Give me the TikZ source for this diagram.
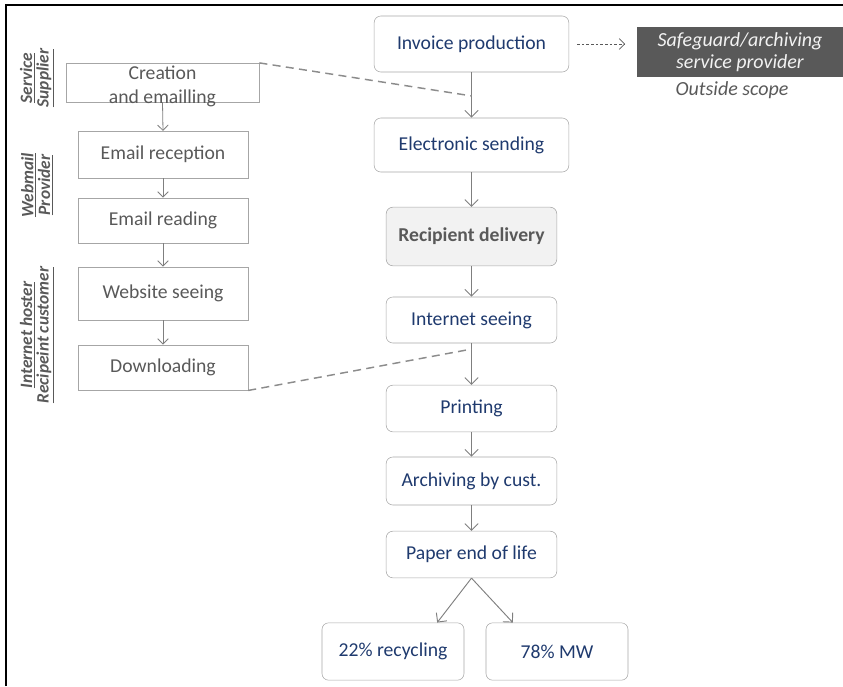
\documentclass[tikz,border=0pt]{standalone}
\usepackage{fontspec}
\setmainfont{Carlito}
\usepackage{tikz}
\usetikzlibrary{calc,arrows.meta}

\definecolor{boxgray}{HTML}{A6A6A6}
\definecolor{arrgray}{HTML}{7F7F7F}
\definecolor{procblue}{HTML}{1F3A6E}
\definecolor{leftgray}{HTML}{595959}
\definecolor{darkbox}{HTML}{595959}
\definecolor{lightfill}{HTML}{F2F2F2}

\begin{document}
\begin{tikzpicture}[x=0.75pt,y=-0.75pt]
    \useasboundingbox (0,0) rectangle (843,686);
    \draw[line width=1.2pt] (6,686) -- (6,5) -- (843,5);

    \tikzset{procbox/.style={draw=boxgray,rounded corners=5pt,text=procblue,inner sep=0pt,font=\fontsize{14.75}{17}\selectfont},
             leftbox/.style={draw=boxgray,text=leftgray,inner sep=0pt,align=center,font=\fontsize{14.75}{16.5}\selectfont},
             flow/.style={arrgray,line width=0.7pt,-{Straight Barb[length=5pt,width=10pt]}},
             lane/.style={rotate=90,align=center,text=leftgray,font=\fontsize{13}{12.5}\selectfont\bfseries\itshape},
             scopeline/.style={arrgray!90,line width=1.1pt,dash pattern=on 6pt off 4pt}}

    % central column
    \node[procbox,minimum width=146pt,minimum height=42pt] (invoice) at (471.5,44) {Invoice production};
    \node[procbox,minimum width=146pt,minimum height=40.5pt] (sending) at (471.5,145) {Electronic sending};
    \node[procbox,fill=lightfill,text=leftgray,font=\fontsize{14.75}{17}\selectfont\bfseries,minimum width=128pt,minimum height=44pt] (delivery) at (471.5,236.5) {Recipient delivery};
    \node[procbox,minimum width=128pt,minimum height=34.5pt] (seeing) at (471.5,320) {Internet seeing};
    \node[procbox,minimum width=128pt,minimum height=35pt] (printing) at (471.5,408.5) {Printing};
    \node[procbox,minimum width=128pt,minimum height=36pt] (archiving) at (471.5,481) {Archiving by cust.};
    \node[procbox,minimum width=128pt,minimum height=35pt] (endlife) at (471.5,554.5) {Paper end of life};
    \node[procbox,minimum width=106.5pt,minimum height=43pt] (recycling) at (393,651.5) {22\% recycling};
    \node[procbox,minimum width=106.5pt,minimum height=43pt] (mw) at (557,651.5) {78\% MW};

    \draw[flow] (invoice) -- (sending);
    \draw[flow] (sending) -- (delivery);
    \draw[flow] (delivery) -- (seeing);
    \draw[flow] (seeing) -- (printing);
    \draw[flow] (printing) -- (archiving);
    \draw[flow] (archiving) -- (endlife);
    \draw[flow] (endlife.south) -- ($(recycling.north)!.62!(recycling.north east)$);
    \draw[flow] (endlife.south) -- ($(mw.north)!.62!(mw.north west)$);

    % outside scope
    \node[fill=darkbox,text=lightfill,align=center,inner sep=0pt,minimum width=154.5pt,minimum height=37.5pt,font=\fontsize{15}{17}\selectfont\itshape] (safeguard) at (740,52) {Safeguard/archiving\\service provider};
    \node[text=leftgray,font=\fontsize{15}{17}\selectfont\itshape] (scope) at (732,90) {Outside scope};
    \coordinate (tip) at (625,44);
    \draw[leftgray,line width=0.5pt,dash pattern=on 2pt off 1.5pt,-{Straight Barb[length=4pt,width=8pt]}] ($(invoice.east)+(8,0)$) -- (tip);

    % left column
    \node[leftbox,minimum width=145pt,minimum height=29pt,
          label={[text=leftgray,align=center,font=\fontsize{14.75}{17.5}\selectfont,yshift=-3pt]center:Creation\\and emailling}] (creation) at (162.5,82.5) {};
    \node[leftbox,minimum width=127.5pt,minimum height=35pt] (reception) at (163,154.5) {Email reception};
    \node[leftbox,minimum width=127.5pt,minimum height=34pt] (reading) at (163,220.5) {Email reading};
    \node[leftbox,minimum width=127.5pt,minimum height=40pt] (website) at (163,293.5) {Website seeing};
    \node[leftbox,minimum width=127.5pt,minimum height=34pt] (download) at (163,367.5) {Downloading};

    \tikzset{small/.style={arrgray,line width=0.6pt,-{Straight Barb[length=4pt,width=8pt]}}}
    \draw[small] (creation.south) -- (reception.north);
    \draw[small] (reception) -- (reading);
    \draw[small] (reading) -- (website);
    \draw[small] (website) -- (download);

    \node[lane] (supplier) at (37,78) {\underline{Service}\\\underline{Supplier}};
    \node[lane] (webmail) at (37,185) {\underline{Webmail}\\\underline{Provider}};
    \node[lane] (hoster) at (37,335) {\underline{Internet hoster}\\\underline{Recipeint customer}};

    \draw[scopeline] (creation.north east) -- ($(invoice.south)!.52!(sending.north)$);
    \draw[scopeline] (download.south east) -- ($(seeing.south)!.14!(printing.north)$);
\end{tikzpicture}
\end{document}
